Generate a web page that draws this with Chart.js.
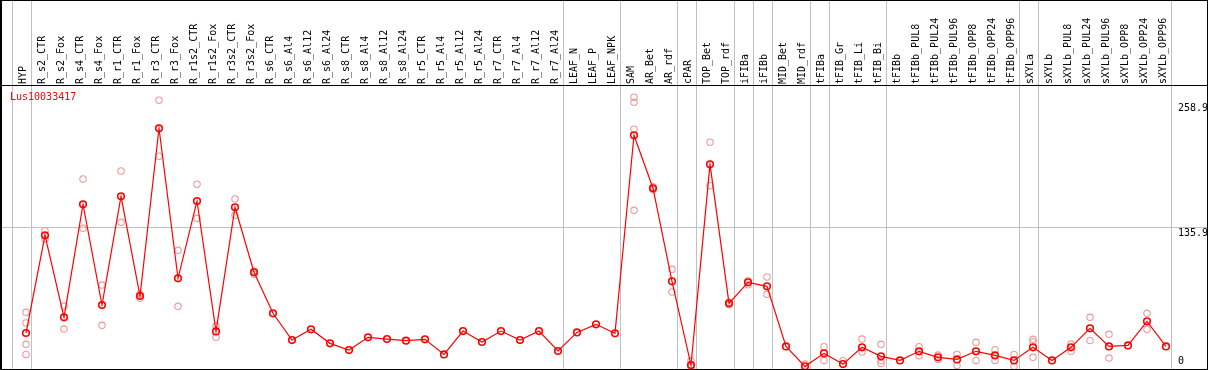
<!DOCTYPE html>
<html>
<head>
<meta charset="utf-8">
<script src="https://cdn.jsdelivr.net/npm/chart.js@4/dist/chart.umd.min.js"></script>
<style>
html,body{margin:0;padding:0;background:#fff;}
#c{display:block;}
</style>
</head>
<body>
<canvas id="c" width="1209" height="370"></canvas>
<script>
const categories = ["HYP","R_s2_CTR","R_s2_Fox","R_s4_CTR","R_s4_Fox","R_r1_CTR","R_r1_Fox","R_r3_CTR","R_r3_Fox","R_r1s2_CTR","R_r1s2_Fox","R_r3s2_CTR","R_r3s2_Fox","R_s6_CTR","R_s6_Al4","R_s6_Al12","R_s6_Al24","R_s8_CTR","R_s8_Al4","R_s8_Al12","R_s8_Al24","R_r5_CTR","R_r5_Al4","R_r5_Al12","R_r5_Al24","R_r7_CTR","R_r7_Al4","R_r7_Al12","R_r7_Al24","LEAF_N","LEAF_P","LEAF_NPK","SAM","AR_Bet","AR_rdf","cPAR","TOP_Bet","TOP_rdf","iFIBa","iFIBb","MID_Bet","MID_rdf","tFIBa","tFIB_Gr","tFIB_Li","tFIB_Bi","tFIBb","tFIBb_PUL8","tFIBb_PUL24","tFIBb_PUL96","tFIBb_OPP8","tFIBb_OPP24","tFIBb_OPP96","sXYLa","sXYLb","sXYLb_PUL8","sXYLb_PUL24","sXYLb_PUL96","sXYLb_OPP8","sXYLb_OPP24","sXYLb_OPP96"];

const means = [32.9,128.5,48.2,158.8,60.3,166.6,69.1,233.2,86.4,162.0,34.5,155.9,92.3,52.2,26.0,36.5,22.8,16.2,28.7,27.0,25.4,26.7,12.0,34.8,24.1,34.8,26.0,34.8,15.3,33.5,41.4,32.6,226.3,174.5,83.5,1.6,197.9,61.9,82.5,78.6,19.8,0.3,13.0,2.5,18.9,10.1,6.1,15.0,9.1,7.1,15.0,11.0,6.1,18.9,6.1,18.9,37.5,19.8,20.8,44.3,19.8];

const replicates = [
  [53.1,42.7,21.8,12.0],[133,124.9],[59.3,36.8],[183.6,135.3],[79.8,40.4],[191.4,141.2],[71,66.8],[260.6,205.8],[113.8,59.0],[178.4,145.1],
  [39.7,28.7],[164,148],[93.5,90.3],[],[],[],[],[],[],[],
  [],[],[],[],[],[],[],[],[],[],
  [],[],[263.5,258.6,232.2,152.9],[176,173],[95.2,73],[5.8,0],[219.5,177],[63,60.5],[80,84],[87.7,70.7],
  [],[2.5],[19.5,6.1],[5.8],[27,14.3],[21.8,5.8,3.2],[],[19.5,10.7],[11.3,7.1],[12,1.2],
  [23.8,6.1],[16.6,6.1],[12,0.3],[26.7,24.1,9.1],[],[22.1,15],[48.2,25.7],[31.6,8.4],[],[52.2,36.5],
  []
];

const yTickValues = [0, 135.9, 258.9];
const yGridValues = [135.9];
const groupLastIndex = [-1, 0, 28, 31, 34, 35, 37, 38, 39, 41, 42, 45, 52, 53, 60];
const title = "Lus10033417";

const FONT = "DejaVu Sans Mono";
const GRAY = "#c0c0c0";
const RED = "#ff0000";
const PINK = "#ee9a9a";

const meanPoints = means.map((v, i) => ({x: i, y: v}));
const repPoints = [];
replicates.forEach((arr, i) => arr.forEach(v => repPoints.push({x: i, y: v})));

const decorPlugin = {
  id: 'decor',
  beforeDatasetsDraw(chart) {
    const {ctx, chartArea, scales} = chart;
    ctx.save();
    ctx.strokeStyle = GRAY;
    ctx.lineWidth = 1;
    groupLastIndex.forEach(g => {
      const px = Math.round(scales.x.getPixelForValue(g + 0.24)) + 0.5;
      ctx.beginPath();
      ctx.moveTo(px, 0);
      ctx.lineTo(px, chartArea.bottom);
      ctx.stroke();
    });
    ctx.restore();
  },
  afterDraw(chart) {
    const {ctx, chartArea, scales} = chart;
    ctx.save();
    ctx.font = "10px '" + FONT + "'";
    ctx.fillStyle = "#000";
    ctx.textAlign = "left";
    ctx.textBaseline = "top";
    yTickValues.forEach(v => {
      let py = scales.y.getPixelForValue(v) + 1;
      py = Math.min(py, chartArea.bottom - 13);
      ctx.fillText(String(v), chartArea.right - 29, py);
    });
    ctx.fillStyle = RED;
    ctx.textBaseline = "middle";
    ctx.fillText(title, chartArea.left + 9, chartArea.top + 12);
    ctx.strokeStyle = "#000";
    ctx.lineWidth = 1;
    ctx.beginPath();
    ctx.moveTo(0, 0.5); ctx.lineTo(chartArea.right + 1, 0.5);
    ctx.moveTo(0, chartArea.top + 0.5); ctx.lineTo(chartArea.right + 1, chartArea.top + 0.5);
    ctx.moveTo(0, chartArea.bottom + 0.5); ctx.lineTo(chartArea.right + 1, chartArea.bottom + 0.5);
    ctx.moveTo(0.5, 0); ctx.lineTo(0.5, chartArea.bottom + 1);
    ctx.moveTo(1.5, 0); ctx.lineTo(1.5, chartArea.bottom + 1);
    ctx.moveTo(chartArea.right + 0.5, 0); ctx.lineTo(chartArea.right + 0.5, chartArea.bottom + 1);
    ctx.stroke();
    ctx.restore();
  }
};

new Chart(document.getElementById('c'), {
  type: 'line',
  data: {
    datasets: [
      {
        type: 'scatter',
        label: 'replicates',
        data: repPoints,
        showLine: false,
        pointStyle: 'circle',
        pointRadius: 3.2,
        pointBorderWidth: 1.1,
        pointBorderColor: PINK,
        pointBackgroundColor: 'rgba(0,0,0,0)',
        order: 2
      },
      {
        label: title,
        data: meanPoints,
        borderColor: RED,
        borderWidth: 1.2,
        tension: 0,
        fill: false,
        pointStyle: 'circle',
        pointRadius: 3.3,
        pointBorderWidth: 1.6,
        pointBorderColor: RED,
        pointBackgroundColor: 'rgba(0,0,0,0)',
        order: 1
      }
    ]
  },
  options: {
    responsive: false,
    animation: false,
    devicePixelRatio: 1,
    layout: {autoPadding: false, padding: {left: 1, right: 2, top: 1, bottom: 1}},
    plugins: {legend: {display: false}, tooltip: {enabled: false}, title: {display: false}},
    scales: {
      x: {
        type: 'linear',
        position: 'top',
        min: -1.316,
        max: 62.158,
        grid: {display: false, drawTicks: false},
        border: {display: false},
        afterBuildTicks: s => { s.ticks = categories.map((_, i) => ({value: i})); },
        afterFit: s => { s.height = 84; s.paddingLeft = 0; s.paddingRight = 0; },
        ticks: {
          autoSkip: false,
          maxRotation: 90,
          minRotation: 90,
          padding: 1,
          labelOffset: 9.5,
          color: '#000',
          font: {family: FONT, size: 10},
          callback: v => categories[v]
        }
      },
      y: {
        type: 'linear',
        position: 'right',
        min: -2.3,
        max: 275.5,
        afterBuildTicks: s => { s.ticks = yTickValues.map(v => ({value: v})); },
        afterFit: s => { s.width = 0; s.paddingTop = 0; s.paddingBottom = 0; },
        grid: {
          drawTicks: false,
          color: c => (c.tick && yGridValues.includes(c.tick.value)) ? GRAY : 'rgba(0,0,0,0)',
          lineWidth: 1
        },
        border: {display: false},
        ticks: {display: false}
      }
    }
  },
  plugins: [decorPlugin]
});
</script>
</body>
</html>
